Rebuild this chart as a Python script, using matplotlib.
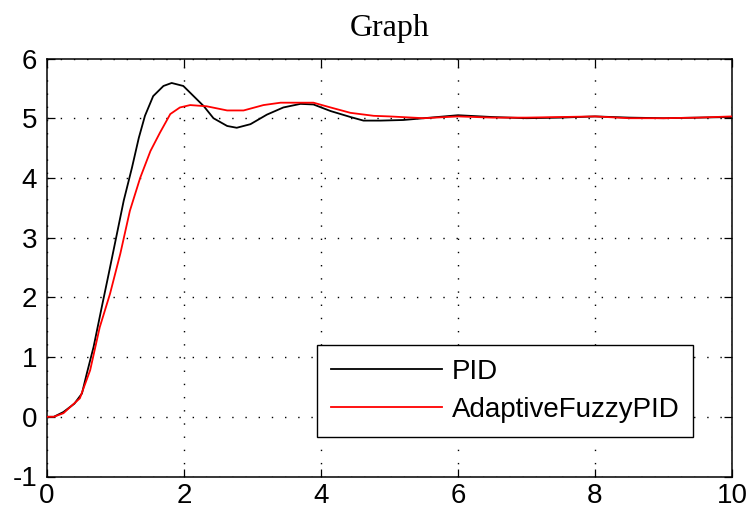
import matplotlib.pyplot as plt

plt.rcParams['axes.unicode_minus'] = False

# Step responses
t_pid = [0, 0.1, 0.24, 0.4, 0.51, 0.58, 0.68, 0.80, 0.90, 1.02, 1.12, 1.24, 1.34,
         1.43, 1.55, 1.70, 1.82, 1.99, 2.14, 2.29, 2.43, 2.63, 2.77, 2.97, 3.21,
         3.45, 3.70, 3.89, 4.14, 4.43, 4.62, 4.87, 5.2, 5.5, 6.0, 6.5, 7.0, 7.5,
         8.0, 8.5, 9.0, 9.5, 10]
y_pid = [0, 0.0, 0.08, 0.22, 0.39, 0.72, 1.17, 1.84, 2.39, 3.06, 3.62, 4.17, 4.67,
         5.04, 5.37, 5.54, 5.59, 5.54, 5.37, 5.2, 5.0, 4.87, 4.84, 4.90, 5.06,
         5.18, 5.24, 5.23, 5.12, 5.02, 4.96, 4.96, 4.97, 5.0, 5.05, 5.02, 5.0, 5.01,
         5.03, 5.01, 5.0, 5.01, 5.02]

t_fuzzy = [0, 0.1, 0.24, 0.48, 0.63, 0.77, 0.92, 1.07, 1.21, 1.36, 1.51, 1.65, 1.80,
           1.94, 2.09, 2.33, 2.63, 2.87, 3.16, 3.41, 3.89, 4.14, 4.43, 4.77, 5.0,
           5.5, 6.0, 6.5, 7.0, 7.5, 8.0, 8.5, 9.0, 9.5, 10]
y_fuzzy = [0, 0, 0.06, 0.31, 0.78, 1.5, 2.06, 2.73, 3.45, 4.0, 4.45, 4.76, 5.07,
           5.18, 5.22, 5.2, 5.13, 5.13, 5.22, 5.26, 5.26, 5.18, 5.09, 5.04, 5.03,
           5.0, 5.03, 5.01, 5.01, 5.02, 5.03, 5.0, 5.0, 5.01, 5.03]

labels = ['PID', 'AdaptiveFuzzyPID']

W, H = 747, 513
fig = plt.figure(figsize=(W / 100, H / 100), dpi=100)
ax = fig.add_axes([47 / W, (H - 476.5) / H, (732 - 47) / W, (476.5 - 58.5) / H])

ax.plot(t_pid, y_pid, color='black', lw=1.3, label=labels[0], zorder=3)
ax.plot(t_fuzzy, y_fuzzy, color='red', lw=1.3, label=labels[1], zorder=3)

ax.set_xlim(0, 10)
ax.set_ylim(-1, 6)
ax.set_xticks(range(0, 11, 2))
ax.set_yticks(range(-1, 7))

ax.grid(True, color='black', linestyle=(0, (1, 8.5)), linewidth=1.0)
ax.tick_params(direction='in', length=5.5, width=0.9, top=True, right=True,
               labelsize=20)
ax.tick_params(axis='x', pad=4.5)
ax.tick_params(axis='y', pad=7)
for lbl in ax.get_xticklabels() + ax.get_yticklabels():
    lbl.set_fontfamily('Liberation Sans')
for s in ax.spines.values():
    s.set_linewidth(1.1)

ax.set_title('Graph', fontfamily='Liberation Serif', fontsize=23, pad=16)

leg = ax.legend(loc='lower left', bbox_to_anchor=(317 / W, (H - 437) / H),
                bbox_transform=fig.transFigure, borderaxespad=0,
                prop={'family': 'Liberation Sans', 'size': 20},
                handlelength=4.0, handletextpad=0.35, labelspacing=0.45,
                borderpad=0.5, fancybox=False, framealpha=1, edgecolor='black')
leg.get_frame().set_linewidth(1.0)

fig.savefig('out.png', dpi=100)
